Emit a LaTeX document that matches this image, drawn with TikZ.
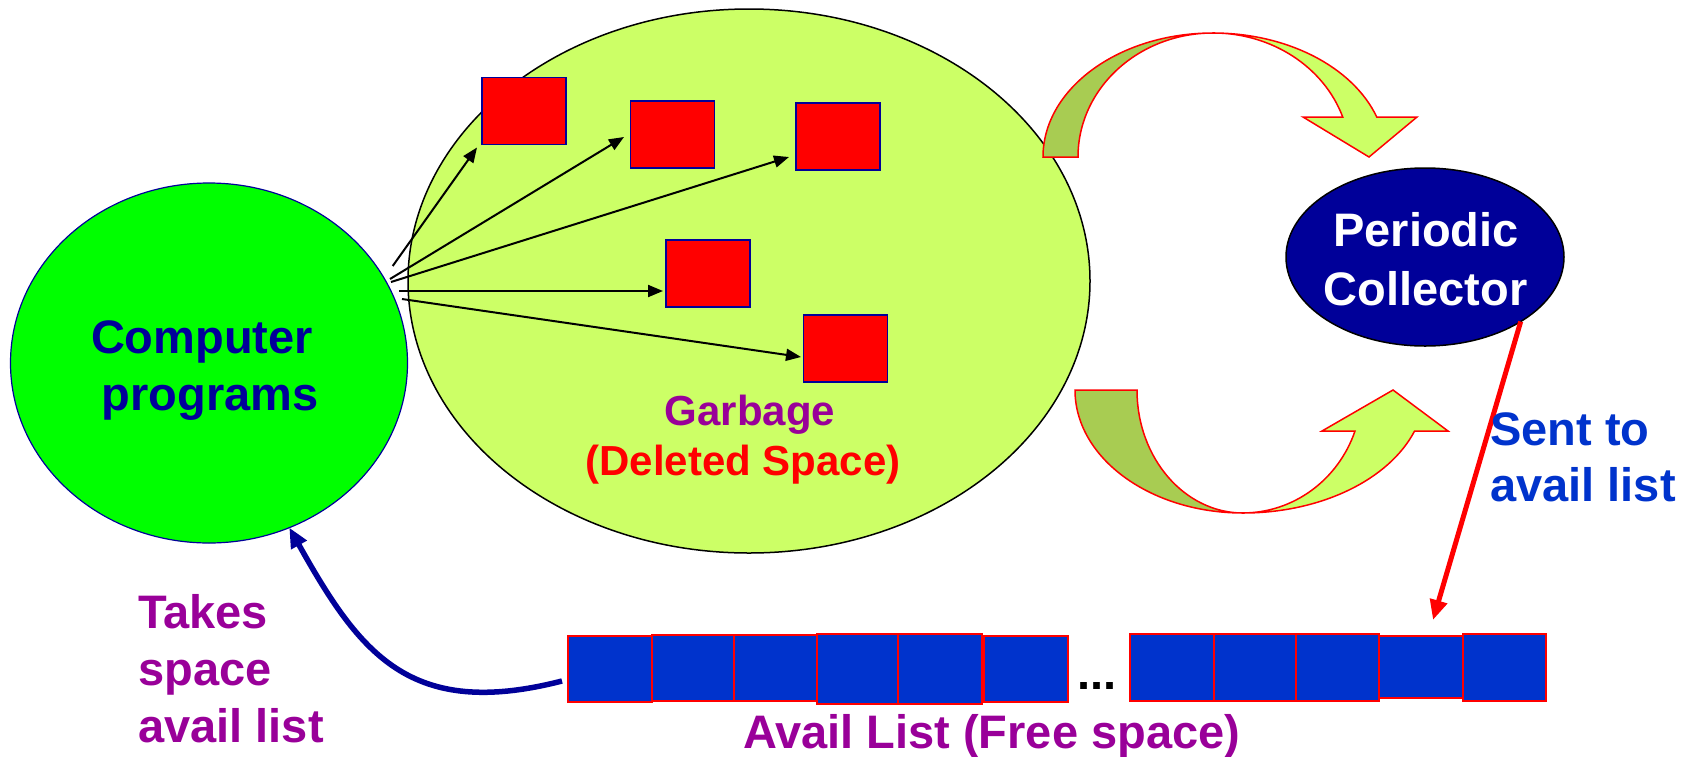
\documentclass[tikz,border=0pt]{standalone}
\usepackage{fontspec}
\setmainfont{Liberation Sans}
\usetikzlibrary{arrows.meta,shapes.geometric}
\definecolor{navy}{HTML}{000099}
\definecolor{purp}{HTML}{990099}
\definecolor{availblue}{HTML}{0033CC}
\definecolor{lightgreen}{HTML}{CCFF66}
\definecolor{darkgreen}{RGB}{168,204,82}
\definecolor{brightgreen}{HTML}{00FF00}
\tikzset{
  txt/.style={inner sep=0pt, font=\fontsize{47}{57}\selectfont\bfseries},
  smalltxt/.style={inner sep=0pt, font=\fontsize{42}{50}\selectfont\bfseries},
  redsq/.style={draw=navy, line width=1.3pt, fill=red, minimum width=84pt, minimum height=67pt, inner sep=0pt, outer sep=0pt},
  avbox/.style={draw=red, line width=1.7pt, fill=availblue, inner sep=0pt, outer sep=0pt},
  ptr/.style={line width=2pt, -{Triangle[length=15pt,width=12pt]}},
  bendarrow/.style={draw=red, line width=1.5pt, line join=miter},
  blob/.style={ellipse, inner sep=0pt, outer sep=0pt}
}
\begin{document}
\begin{tikzpicture}[x=1pt,y=-1pt]
\useasboundingbox (0,0) rectangle (1684,756);

% main ellipses
\node[blob, draw=navy, line width=1.2pt, fill=brightgreen, minimum width=397pt, minimum height=360pt] (cp) at (209,363) {};
\node[blob, draw=black, line width=1.5pt, fill=lightgreen, minimum width=682pt, minimum height=544pt] (gb) at (749,281) {};
\node[blob, draw=black, line width=1.5pt, fill=navy, minimum width=278pt, minimum height=178pt] (pc) at (1425,257) {};

% curved block arrows
\filldraw[bendarrow, fill=darkgreen] (1043,157) arc[start angle=180, end angle=270, x radius=170, y radius=124]
  arc[start angle=270, end angle=180, x radius=135, y radius=124] -- cycle;
\filldraw[bendarrow, fill=lightgreen] (1213,33) arc[start angle=270, end angle=341.2, x radius=173, y radius=124]
  -- (1417,117) -- (1369,157) -- (1303,117) -- (1342.7,117)
  arc[start angle=341.2, end angle=270, x radius=137, y radius=124] -- cycle;
\filldraw[bendarrow, fill=darkgreen] (1075,390) arc[start angle=180, end angle=90, x radius=168, y radius=123]
  arc[start angle=90, end angle=180, x radius=106, y radius=123] -- cycle;
\filldraw[bendarrow, fill=lightgreen] (1243,513) arc[start angle=90, end angle=19.5, x radius=182, y radius=123]
  -- (1448,431) -- (1393,390) -- (1322,431) -- (1355,431)
  arc[start angle=19.5, end angle=90, x radius=119, y radius=123] -- cycle;

% red squares (garbage)
\node[redsq] (sq1) at (524,111) {};
\node[redsq] (sq2) at (672.5,134.5) {};
\node[redsq] (sq3) at (838,136.5) {};
\node[redsq] (sq4) at (708,273.5) {};
\node[redsq] (sq5) at (845.5,348.5) {};

% pointer arrows
\coordinate (s1) at (392.7,266);
\coordinate (s2) at (390,279);
\coordinate (s3) at (391,282);
\coordinate (s4) at (399,291);
\coordinate (s5) at (402,299);
\draw[ptr] (s1) -- ([xshift=-5pt,yshift=-3pt]sq1.south west);
\draw[ptr] (s2) -- ([xshift=-6.5pt,yshift=-2.5pt]sq2.west);
\draw[ptr] (s3) -- ([xshift=-7pt,yshift=-20.5pt]sq3.west);
\draw[ptr] (s4) -- ([xshift=-3pt,yshift=-17.5pt]sq4.west);
\draw[ptr] (s5) -- ([xshift=-2.5pt,yshift=-8.5pt]sq5.west);

% avail list boxes
\node[avbox, minimum width=84pt, minimum height=66pt] (a1) at (610,669) {};
\node[avbox, minimum width=82pt, minimum height=66pt] (a2) at (693,668) {};
\node[avbox, minimum width=83pt, minimum height=66pt] (a3) at (775.5,668) {};
\node[avbox, minimum width=81pt, minimum height=70pt] (a4) at (857.5,669) {};
\node[avbox, minimum width=84pt, minimum height=70pt] (a5) at (940,669) {};
\node[avbox, minimum width=84pt, minimum height=66pt] (a6) at (1026,669) {};
\node[avbox, minimum width=84pt, minimum height=67pt] (a7) at (1172,667.5) {};
\node[avbox, minimum width=82pt, minimum height=67pt] (a8) at (1255,667.5) {};
\node[avbox, minimum width=83pt, minimum height=67pt] (a9) at (1337.5,667.5) {};
\node[avbox, minimum width=84pt, minimum height=62pt] (a10) at (1421,667) {};
\node[avbox, minimum width=83pt, minimum height=67pt] (a11) at (1504.5,667.5) {};
\node[txt, anchor=base] (dots) at (1097,689) {...};

% connectors
\draw[line width=5pt, red, -{Triangle[length=20pt,width=17pt]}] (pc.-34) -- ([xshift=12pt,yshift=16pt]a10.north);
\draw[line width=5.5pt, navy, -{Triangle[length=20pt,width=17pt]}] ([xshift=-6pt,yshift=-12pt]a1.west)
  .. controls (410,720) and (360,654) .. (cp.-64);

% texts
\node[txt, text=navy, anchor=base] (t1) at (202,353) {Computer};
\node[txt, text=navy, anchor=base] (t2) at (210,410) {programs};
\node[smalltxt, text=purp, anchor=base] (t3) at (750,425) {Garbage};
\node[smalltxt, text=red, anchor=base] (t4) at (743,475) {(Deleted Space)};
\node[txt, text=white, anchor=base] (t5) at (1426,246.7) {Periodic};
\node[txt, text=white, anchor=base] (t6) at (1425.5,305) {Collector};
\node[txt, text=availblue, anchor=base west] (t7) at (1490,445) {Sent to};
\node[txt, text=availblue, anchor=base west] (t8) at (1490,501.7) {avail list};
\node[txt, text=purp, anchor=base west] (t9) at (138,628) {Takes};
\node[txt, text=purp, anchor=base west] (t10) at (138,685) {space};
\node[txt, text=purp, anchor=base west] (t11) at (138,742) {avail list};
\node[txt, text=purp, anchor=base] (t12) at (991.6,748) {Avail List (Free space)};
\end{tikzpicture}
\end{document}
